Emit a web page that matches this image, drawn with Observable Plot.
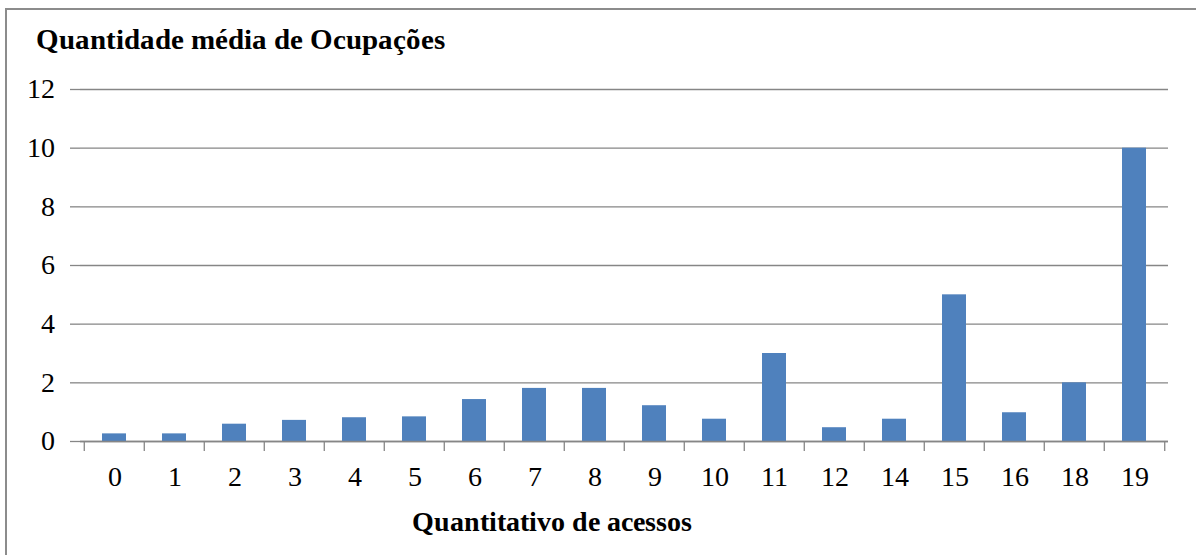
<!DOCTYPE html>
<html>
<head>
<meta charset="utf-8">
<style>
@font-face { font-family: "RefSerif"; src: local("Liberation Serif"), local("LiberationSerif"), local("Liberation Serif Regular"), local("LiberationSerif-Regular"); font-weight: normal; }
@font-face { font-family: "RefSerif"; src: local("Liberation Serif Bold"), local("LiberationSerif-Bold"); font-weight: bold; }
</style>
<script src="https://cdn.jsdelivr.net/npm/d3@7"></script>
<script src="https://cdn.jsdelivr.net/npm/@observablehq/plot@0.6"></script>
</head>
<body style="margin:0;padding:0;background:#fff;">
<div id="wrap" style="position:relative;width:1196px;height:555px;overflow:hidden;">
  <div style="position:absolute;left:5px;top:8px;width:1300px;height:700px;border:2px solid #8c8c8c;box-sizing:border-box;"></div>
  <div id="chart" style="position:absolute;left:0;top:0;"></div>
  <div style="position:absolute;left:36px;top:25px;font-family:'RefSerif','Liberation Serif','Times New Roman';font-size:29px;font-weight:bold;line-height:1;color:#000;white-space:nowrap;">Quantidade média de Ocupações</div>
  <div style="position:absolute;left:0;width:1103px;text-align:center;top:508px;font-family:'RefSerif','Liberation Serif','Times New Roman';font-size:28px;font-weight:bold;line-height:1;color:#000;white-space:nowrap;">Quantitativo de acessos</div>
</div>
<script>
const categories = ["0","1","2","3","4","5","6","7","8","9","10","11","12","14","15","16","18","19"];
const values = [0.26, 0.26, 0.59, 0.72, 0.81, 0.84, 1.43, 1.81, 1.81, 1.22, 0.76, 3.0, 0.47, 0.76, 5.0, 0.98, 2.0, 10.0];
const yTicks = [0, 2, 4, 6, 8, 10, 12];

const data = categories.map((c, i) => ({cat: c, value: values[i]}));

const W = 1196, H = 555;
const mL = 80, mR = 28, mT = 89, mB = 114;
const step = (W - mL - mR) / categories.length;
const gray = "#868686";
const font = "'RefSerif', 'Liberation Serif', 'Times New Roman'";

const chart = Plot.plot({
  width: W,
  height: H,
  marginLeft: mL,
  marginRight: mR,
  marginTop: mT,
  marginBottom: mB,
  style: { fontFamily: font, fontSize: "28px", color: "#000", background: "transparent" },
  x: { domain: categories, paddingInner: 0.6, paddingOuter: 0.3, label: null },
  y: { domain: [0, 12], label: null },
  marks: [
    Plot.gridY(yTicks, { stroke: gray, strokeOpacity: 1, strokeWidth: 1.3 }),
    Plot.axisY(yTicks, { tickSize: 10, tickPadding: 16, stroke: gray, strokeWidth: 1.3, label: null, fontSize: 28, fill: "#000" }),
    Plot.barY(data, { x: "cat", y: "value", fill: "#4F81BD" }),
    Plot.ruleY([0], { stroke: gray, strokeWidth: 1.3 }),
    Plot.ruleX([0], { x: () => 0, frameAnchor: "left", stroke: gray, strokeWidth: 1.3 }),
    Plot.axisX({ tickSize: 0, tickPadding: 25, label: null, fontSize: 28, fill: "#000" }),
    Plot.axisX(categories, { text: null, tickSize: 10, dx: -step / 2, stroke: gray, strokeWidth: 1.3, label: null }),
    Plot.axisX([categories[categories.length - 1]], { text: null, tickSize: 10, dx: step / 2, stroke: gray, strokeWidth: 1.3, label: null })
  ]
});
d3.select(chart).selectAll("text").each(function () {
  this.style.setProperty("font-family", font);
  this.style.setProperty("font-size", "28px");
});
document.getElementById("chart").appendChild(chart);
</script>
</body>
</html>
